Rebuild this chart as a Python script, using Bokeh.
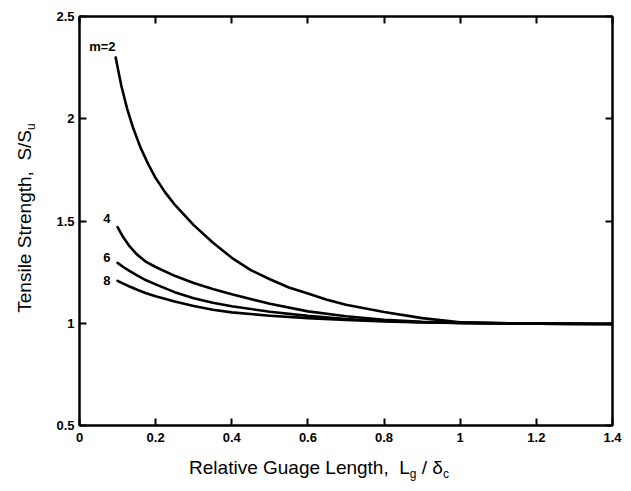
from bokeh.plotting import figure
from bokeh.models import LinearAxis, FixedTicker, Label, Range1d, Div
from bokeh.layouts import row, column
from bokeh.embed import file_html
from bokeh.resources import INLINE

# ---- data ----
x_m2 = [0.095, 0.11, 0.125, 0.14, 0.16, 0.18, 0.2, 0.225, 0.25, 0.275, 0.3, 0.35, 0.4, 0.45, 0.5,
        0.55, 0.6, 0.65, 0.7, 0.8, 0.9, 1.0, 1.1, 1.2, 1.3, 1.4]
y_m2 = [2.30, 2.16, 2.05, 1.96, 1.86, 1.78, 1.71, 1.64, 1.58, 1.53, 1.48, 1.395, 1.32, 1.26, 1.215,
        1.175, 1.145, 1.115, 1.09, 1.055, 1.025, 1.005, 1.0, 0.998, 0.997, 0.996]

x_m4 = [0.1, 0.115, 0.13, 0.15, 0.175, 0.2, 0.25, 0.3, 0.35, 0.4, 0.5, 0.6, 0.7, 0.8, 0.9, 1.0, 1.2, 1.4]
y_m4 = [1.47, 1.42, 1.38, 1.338, 1.30, 1.275, 1.232, 1.197, 1.168, 1.142, 1.095, 1.058, 1.034, 1.017,
        1.007, 1.002, 0.998, 0.996]

x_m6 = [0.1, 0.115, 0.13, 0.15, 0.175, 0.2, 0.25, 0.3, 0.35, 0.4, 0.5, 0.6, 0.7, 0.8, 0.9, 1.0, 1.2, 1.4]
y_m6 = [1.295, 1.275, 1.257, 1.235, 1.21, 1.19, 1.152, 1.122, 1.10, 1.083, 1.056, 1.036, 1.021, 1.011,
        1.005, 1.002, 0.998, 0.996]

x_m8 = [0.1, 0.115, 0.13, 0.15, 0.175, 0.2, 0.25, 0.3, 0.35, 0.4, 0.5, 0.6, 0.7, 0.8, 0.9, 1.0, 1.2, 1.4]
y_m8 = [1.207, 1.194, 1.181, 1.165, 1.147, 1.132, 1.106, 1.084, 1.066, 1.053, 1.037, 1.025, 1.016, 1.009,
        1.004, 1.002, 0.998, 0.996]

curve_labels = ["m=2", "4", "6", "8"]
label_x = [0.06, 0.072, 0.072, 0.072]
label_y = [2.353, 1.512, 1.32, 1.209]

x_ticks = [0, 0.2, 0.4, 0.6, 0.8, 1.0, 1.2, 1.4]
x_tick_labels = ["0", "0.2", "0.4", "0.6", "0.8", "1", "1.2", "1.4"]
y_ticks = [0.5, 1.0, 1.5, 2.0, 2.5]
y_tick_labels = ["0.5", "1", "1.5", "2", "2.5"]

x_title_html = "Relative Guage Length,&nbsp; L<sub style='font-size:12px'>g</sub> / &delta;<sub style='font-size:12px'>c</sub>"
y_title_html = "Tensile Strength,&nbsp; S/S<sub style='font-size:12px'>u</sub>"

FONT = "Liberation Sans"
YDIV_W = 40
FIG_W, FIG_H = 575, 453
XDIV_H = 26

p = figure(
    width=FIG_W, height=FIG_H,
    x_range=Range1d(0, 1.4), y_range=Range1d(0.5, 2.5),
    output_backend="svg", toolbar_location=None,
    min_border_left=29, min_border_right=13, min_border_top=16, min_border_bottom=28,
)
p.grid.visible = False
p.outline_line_color = "black"
p.outline_line_width = 2

for ax, ticks, labels in ((p.xaxis[0], x_ticks, x_tick_labels), (p.yaxis[0], y_ticks, y_tick_labels)):
    ax.ticker = FixedTicker(ticks=ticks)
    ax.major_label_overrides = {t: l for t, l in zip(ticks, labels)}
    ax.major_tick_in = 7
    ax.major_tick_out = 0
    ax.minor_tick_line_color = None
    ax.major_tick_line_width = 2
    ax.axis_line_width = 2
    ax.major_label_text_font = FONT
    ax.major_label_text_font_size = "13px"
    ax.major_label_text_font_style = "bold"
    ax.major_label_text_color = "black"
p.xaxis[0].major_label_standoff = 7
p.yaxis[0].major_label_standoff = 5

# mirrored tick marks on the top and right edges (no labels)
for loc, ticks in (("above", x_ticks), ("right", y_ticks)):
    ax = LinearAxis(ticker=FixedTicker(ticks=ticks), major_label_text_font_size="1px",
                    major_label_text_color=None,
                    major_tick_in=7, major_tick_out=0, minor_tick_line_color=None,
                    major_tick_line_width=2, axis_line_width=2, major_label_standoff=0)
    p.add_layout(ax, loc)

for xs, ys in ((x_m2, y_m2), (x_m4, y_m4), (x_m6, y_m6), (x_m8, y_m8)):
    p.line(xs, ys, line_color="black", line_width=2.6, line_join="round", line_cap="round")

for t, lx, ly in zip(curve_labels, label_x, label_y):
    p.add_layout(Label(x=lx, y=ly, text=t, text_font=FONT, text_font_size="13px",
                       text_font_style="bold", text_align="center", text_baseline="middle",
                       text_color="black"))

font_css = f"font-family:'{FONT}';font-size:19px;color:black;white-space:nowrap;line-height:1;"
ydiv = Div(
    width=YDIV_W, height=FIG_H + XDIV_H,
    text=(f"<div style='position:relative;width:{YDIV_W}px;height:{FIG_H + XDIV_H}px;'>"
          f"<div style=\"position:absolute;left:21px;top:213px;transform:translate(-50%,-50%) rotate(-90deg);{font_css}\">"
          f"{y_title_html}</div></div>"),
)
xdiv = Div(
    width=FIG_W, height=XDIV_H,
    text=(f"<div style='position:relative;width:{FIG_W}px;height:{XDIV_H}px;'>"
          f"<div style=\"position:absolute;left:{312 - 8 - YDIV_W}px;top:11px;transform:translate(-50%,-50%);{font_css}\">"
          f"{x_title_html}</div></div>"),
)

layout = row(ydiv, column(p, xdiv, spacing=0), spacing=0)

open("out.html", "w").write(file_html(layout, INLINE))
